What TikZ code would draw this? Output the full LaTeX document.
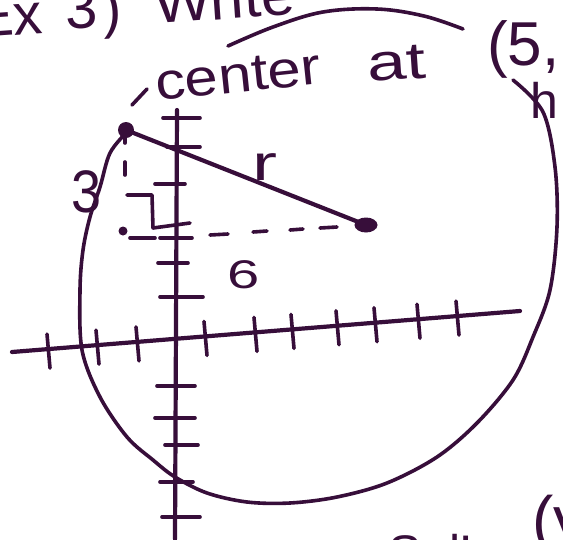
\documentclass[tikz,border=0pt]{standalone}
\usepackage{fontspec}
\setmainfont{Liberation Sans}
\definecolor{ink}{RGB}{55,14,58}
\begin{document}
\begin{tikzpicture}[x=1pt,y=-1pt, line cap=round, line join=round,
  stroke/.style={draw=ink, line width=3.6pt},
  heavy/.style={draw=ink, line width=4.2pt},
  txt/.style={text=ink, inner sep=0pt, anchor=base west}]
\useasboundingbox (0,0) rectangle (563,539);
\clip (0,0) rectangle (563,539);
\fill[white] (0,0) rectangle (563,539);

% key points
\coordinate (P) at (126,130);
\coordinate (C) at (366,225);
\coordinate (Q) at (123,231);

% circle (hand drawn)
\draw[stroke] plot[smooth, tension=0.55] coordinates {(127,132) (110,153) (100,187) (90,217) (83,250) (80,290) (82,350) (100,397) (127,437) (153,460) (175,477) (207,493) (247,502) (290,503) (337,497) (387,483) (437,457) (477,423) (513,380) (533,337) (550,290) (557,227) (555,167) (543,112) (513,80)};
\draw[stroke] plot[smooth, tension=0.6] coordinates {(228,46) (273,27) (323,12) (377,9) (424,16) (463,29)};
\draw[stroke] (132,105) -- (147,89);

% axes
\draw[heavy] (12,352) -- (520,311);
\draw[heavy] (177,110) -- (175,539);
\foreach \t in {48,97,137,205,255,292,337,375,418,457}{
  \pgfmathsetmacro{\ay}{352-0.0807*(\t-12)}
  \draw[stroke] (\t-1,\ay-15) -- (\t+2,\ay+19);
}
\foreach \ty/\xa/\xb in {118/163/200,147/167/200,184/155/185,238/160/192,263/158/188,297/160/203,386/157/195,418/155/195,445/165/198,482/160/193,517/162/200}{
  \draw[stroke] (\xa,\ty) -- (\xb,\ty);
}

% right angle mark
\draw[stroke] (127,195) -- (152,195) -- (153,228) -- (190,223);

% dashed legs
\draw[stroke] (125,138) -- (125,143);
\draw[stroke] (125,162) -- (125,175);
\fill[ink] (Q) circle (4.5);
\draw[stroke] (130,238) -- (155,238);
\draw[stroke] (210,235) -- (228,234);
\draw[stroke] (253,232) -- (267,231);
\draw[stroke] (290,230) -- (303,229);
\draw[stroke] (320,228) -- (337,227);

% radius
\draw[heavy] (P) -- (C);
\fill[ink] (P) circle (8);
\fill[ink] (C) ellipse (11.5 and 7.5);

% labels
\node[txt, font=\fontsize{50}{50}\selectfont, xscale=1.5] (r) at (252,180) {r};
\node[txt, font=\fontsize{40}{40}\selectfont, xscale=1.45] (six) at (227,288) {6};
\node[txt, font=\fontsize{60}{60}\selectfont, xscale=0.9] (three) at (71,212) {3};

% heading text
\node[txt, font=\fontsize{58}{58}\selectfont, rotate=4] (ex) at (-24,38) {Ex};
\node[txt, font=\fontsize{58}{58}\selectfont, rotate=4] (num) at (66,30) {3\kern5pt)};
\node[txt, font=\fontsize{58}{58}\selectfont, rotate=4, xscale=1.05] (write) at (155,24) {Write};
\node[txt, font=\fontsize{52}{52}\selectfont, rotate=6, xscale=1.15] (center) at (157,101) {center};
\node[txt, font=\fontsize{52}{52}\selectfont, rotate=4, xscale=1.35] (at) at (368,82) {at};
\node[txt, font=\fontsize{62}{62}\selectfont] (pt) at (487,65) {(5,};
\node[txt, font=\fontsize{50}{50}\selectfont] (h) at (530,118) {h};

% bottom text (cut off)
\node[txt, font=\fontsize{50}{50}\selectfont] (sol) at (388,570) {Sol'n};
\node[txt, font=\fontsize{64}{64}\selectfont] (yb) at (532,541) {(y};
\end{tikzpicture}
\end{document}
